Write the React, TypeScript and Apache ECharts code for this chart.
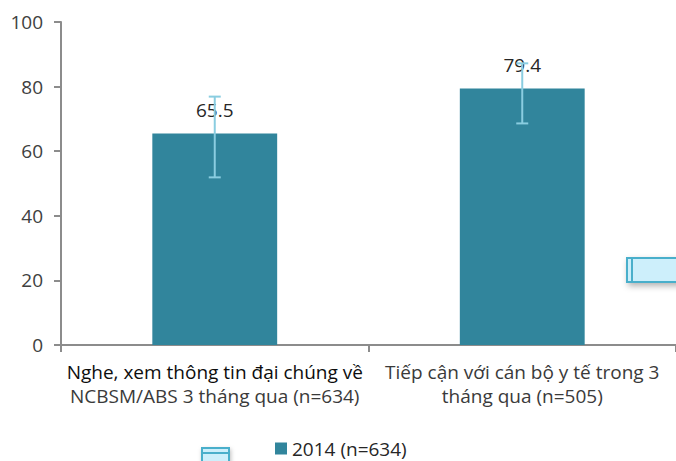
import React, { useEffect, useRef } from "react";
import * as echarts from "echarts";

const categories = [
  "Nghe, xem thông tin đại chúng về\nNCBSM/ABS 3 tháng qua (n=634)",
  "Tiếp cận với cán bộ y tế trong 3\ntháng qua (n=505)",
];
const seriesName = "2014 (n=634)";
const values = [65.5, 79.4];
const errLow = [51.9, 68.6];
const errHigh = [76.9, 87.2];
const yTicks = { min: 0, max: 100, interval: 20 };

export default function App() {
  const ref = useRef<HTMLDivElement>(null);
  useEffect(() => {
    if (!ref.current) return;
    const chart = echarts.init(ref.current, null, { renderer: "svg" });
    const font = "'Open Sans', 'Noto Sans', sans-serif";
    chart.setOption({
      animation: false,
      grid: { left: 61, right: 0, top: 22, bottom: 116 },
      legend: {
        left: 270,
        top: 439,
        padding: [0, 5, 0, 5],
        itemWidth: 12,
        itemHeight: 12,
        icon: "rect",
        itemGap: 10,
        data: [seriesName],
        textStyle: { fontSize: 19, color: "#262626", fontFamily: font },
      },
      xAxis: {
        type: "category",
        data: categories,
        axisLine: { lineStyle: { color: "#8c8c8c", width: 2 } },
        axisTick: { show: true, length: 7, lineStyle: { color: "#8c8c8c", width: 2 } },
        axisLabel: {
          fontFamily: font,
          interval: 0,
          margin: 15,
          formatter: (v: string, i: number) => {
            const lines = v.split("\n");
            return lines
              .map((l, j) => (i === 0 && j === 0 ? `{a|${l}}` : `{b|${l}}`))
              .join("\n");
          },
          rich: {
            a: { color: "#0d0d0d", fontSize: 19, lineHeight: 24, fontFamily: font },
            b: { color: "#3a3a3a", fontSize: 19, lineHeight: 24, fontFamily: font },
          },
        },
      },
      yAxis: {
        type: "value",
        min: yTicks.min,
        max: yTicks.max,
        interval: yTicks.interval,
        splitLine: { show: false },
        axisLine: { show: true, lineStyle: { color: "#8c8c8c", width: 2 } },
        axisTick: { show: true, length: 7, lineStyle: { color: "#8c8c8c", width: 2 } },
        axisLabel: { color: "#404040", fontSize: 19, margin: 18, fontFamily: font },
      },
      series: [
        {
          name: seriesName,
          type: "bar",
          data: values,
          barWidth: "40.6%",
          itemStyle: { color: "#31859C" },
          label: {
            show: true,
            position: "top",
            distance: 14,
            color: "#262626",
            fontSize: 19,
            fontFamily: font,
          },
          z: 2,
        },
        {
          name: "err",
          type: "custom",
          z: 5,
          data: categories.map((_, i) => [i, errLow[i], errHigh[i]]),
          renderItem: (params: any, api: any) => {
            const idx = api.value(0);
            const lo = api.coord([idx, api.value(1)]);
            const hi = api.coord([idx, api.value(2)]);
            const hw = 6;
            const style = { stroke: "#8ACDE0", lineWidth: 2, fill: "none" };
            return {
              type: "group",
              children: [
                { type: "line", shape: { x1: lo[0], y1: lo[1], x2: hi[0], y2: hi[1] }, style },
                { type: "line", shape: { x1: lo[0] - hw, y1: lo[1], x2: lo[0] + hw, y2: lo[1] }, style },
                { type: "line", shape: { x1: hi[0] - hw, y1: hi[1], x2: hi[0] + hw, y2: hi[1] }, style },
              ],
            };
          },
        },
      ],
      graphic: [
        {
          type: "rect",
          shape: { x: 627, y: 258, width: 60, height: 24 },
          style: {
            fill: "#CDEFFB",
            stroke: "#4AAFCB",
            lineWidth: 2,
            shadowBlur: 6,
            shadowOffsetX: 2,
            shadowOffsetY: 3,
            shadowColor: "rgba(0,0,0,0.3)",
          },
        },
        {
          type: "line",
          shape: { x1: 632, y1: 259, x2: 632, y2: 281 },
          style: { stroke: "#4AAFCB", lineWidth: 2 },
        },
        {
          type: "rect",
          shape: { x: 202, y: 448, width: 27, height: 20 },
          style: {
            fill: "#CDEFFB",
            stroke: "#4AAFCB",
            lineWidth: 2,
            shadowBlur: 4,
            shadowOffsetX: 1,
            shadowOffsetY: 2,
            shadowColor: "rgba(0,0,0,0.25)",
          },
        },
        {
          type: "line",
          shape: { x1: 202, y1: 453, x2: 229, y2: 453 },
          style: { stroke: "#4AAFCB", lineWidth: 2 },
        },
      ],
    });
    return () => chart.dispose();
  }, []);
  return (
    <div
      ref={ref}
      style={{ width: 676, height: 461, position: "absolute", left: 0, top: 0 }}
    />
  );
}
